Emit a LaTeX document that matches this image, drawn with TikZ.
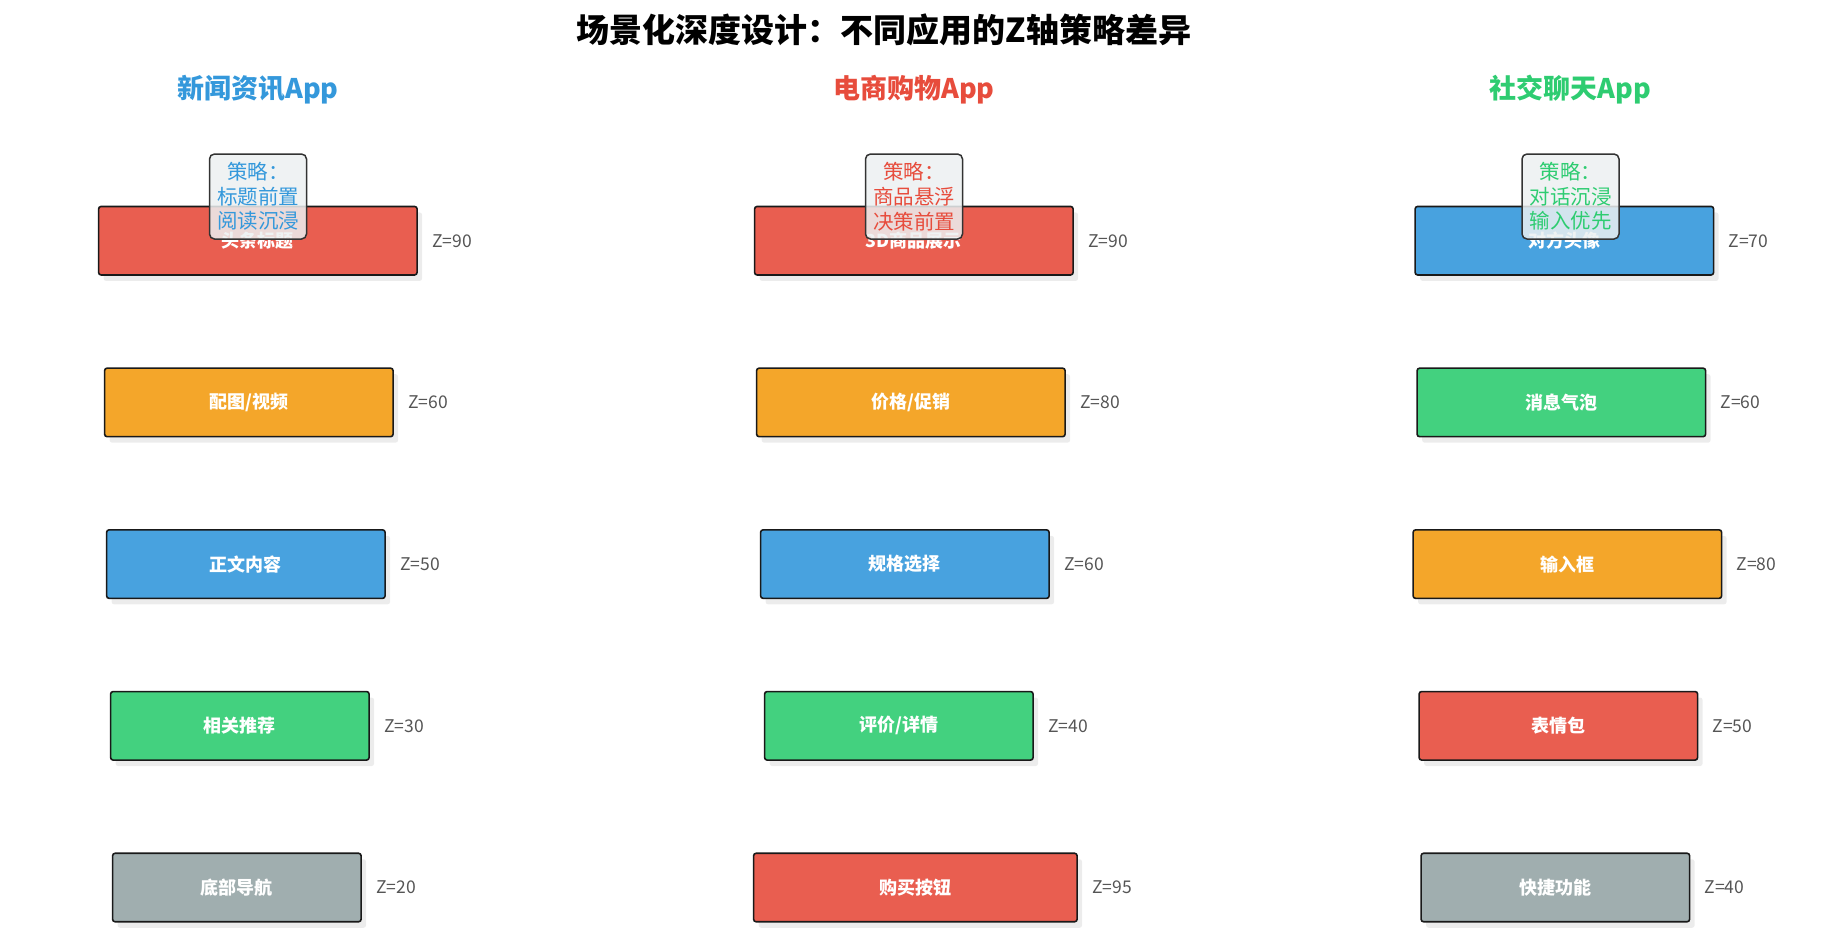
\documentclass[tikz,border=0pt]{standalone}
\usepackage{fontspec}
\setmainfont{Noto Sans CJK SC}
\usetikzlibrary{shadows}

\definecolor{appred}{HTML}{E74C3C}
\definecolor{apporange}{HTML}{F39C12}
\definecolor{appblue}{HTML}{3498DB}
\definecolor{appgreen}{HTML}{2ECC71}
\definecolor{appgray}{HTML}{95A5A6}
\definecolor{notefill}{HTML}{ECF0F1}
\definecolor{zgray}{HTML}{555555}

\begin{document}
\begin{tikzpicture}[x=1pt, y=-1pt,
    layer/.style={draw=black!90, line width=1.6pt, rounded corners=2.5pt,
      minimum height=68.5pt, inner sep=0pt, text=white,
      font=\fontsize{18}{22}\selectfont\bfseries,
      drop shadow={shadow xshift=5pt, shadow yshift=-6pt, opacity=0.15}},
    zlabel/.style={anchor=west, inner sep=0pt, text=zgray, font=\fontsize{17.5}{20}\selectfont},
    apptitle/.style={font=\fontsize{27}{30}\selectfont\bfseries},
    strategy/.style={draw=black!80, line width=1.5pt, rounded corners=5pt,
      fill=notefill, fill opacity=0.85, text opacity=1, align=center,
      minimum width=97pt, minimum height=85pt, inner sep=0pt,
      font=\fontsize{20.5}{24.7}\selectfont}]
    \useasboundingbox (0,0) rectangle (1828,943);

    \def\rowtop{240.7}
    \def\rowgap{161.7}

    \node[font=\fontsize{33}{36}\selectfont\bfseries] (title) at (884,30) {场景化深度设计：不同应用的Z轴策略差异};

    \def\base{115}
    \node[apptitle, text=appblue] (newsapp) at (\base+143,90) {新闻资讯App};
    \foreach \r/\txt/\col/\z in {1/头条标题/appred/90, 2/{配图/视频}/apporange/60,
        3/正文内容/appblue/50, 4/相关推荐/appgreen/30, 5/底部导航/appgray/20} {
      \pgfmathsetmacro{\w}{228.5+\z}
      \pgfmathsetmacro{\lx}{\base+0.8-0.2*\z}
      \pgfmathsetmacro{\yc}{\rowtop+\rowgap*(\r-1)}
      \node[layer, fill=\col!90, minimum width=\w pt, anchor=west] (news\r) at (\lx,\yc) {\txt};
      \node[zlabel] (newsz\r) at ([xshift=14pt]news\r.east) {Z=\z};
    }

    \def\base{771}
    \node[apptitle, text=appred] (shopapp) at (\base+143,90) {电商购物App};
    \foreach \r/\txt/\col/\z in {1/3D商品展示/appred/90, 2/{价格/促销}/apporange/80,
        3/规格选择/appblue/60, 4/{评价/详情}/appgreen/40, 5/购买按钮/appred/95} {
      \pgfmathsetmacro{\w}{228.5+\z}
      \pgfmathsetmacro{\lx}{\base+0.8-0.2*\z}
      \pgfmathsetmacro{\yc}{\rowtop+\rowgap*(\r-1)}
      \node[layer, fill=\col!90, minimum width=\w pt, anchor=west] (shop\r) at (\lx,\yc) {\txt};
      \node[zlabel] (shopz\r) at ([xshift=14pt]shop\r.east) {Z=\z};
    }

    \def\base{1427.5}
    \node[apptitle, text=appgreen] (chatapp) at (\base+143,90) {社交聊天App};
    \foreach \r/\txt/\col/\z in {1/对方头像/appblue/70, 2/消息气泡/appgreen/60,
        3/输入框/apporange/80, 4/表情包/appred/50, 5/快捷功能/appgray/40} {
      \pgfmathsetmacro{\w}{228.5+\z}
      \pgfmathsetmacro{\lx}{\base+0.8-0.2*\z}
      \pgfmathsetmacro{\yc}{\rowtop+\rowgap*(\r-1)}
      \node[layer, fill=\col!90, minimum width=\w pt, anchor=west] (chat\r) at (\lx,\yc) {\txt};
      \node[zlabel] (chatz\r) at ([xshift=14pt]chat\r.east) {Z=\z};
    }

    \node[strategy, text=appblue] (newsnote) at (258,196.5) {策略：\\标题前置\\阅读沉浸};
    \node[strategy, text=appred] (shopnote) at (914,196.5) {策略：\\商品悬浮\\决策前置};
    \node[strategy, text=appgreen] (chatnote) at (1570.5,196.5) {策略：\\对话沉浸\\输入优先};
\end{tikzpicture}
\end{document}
